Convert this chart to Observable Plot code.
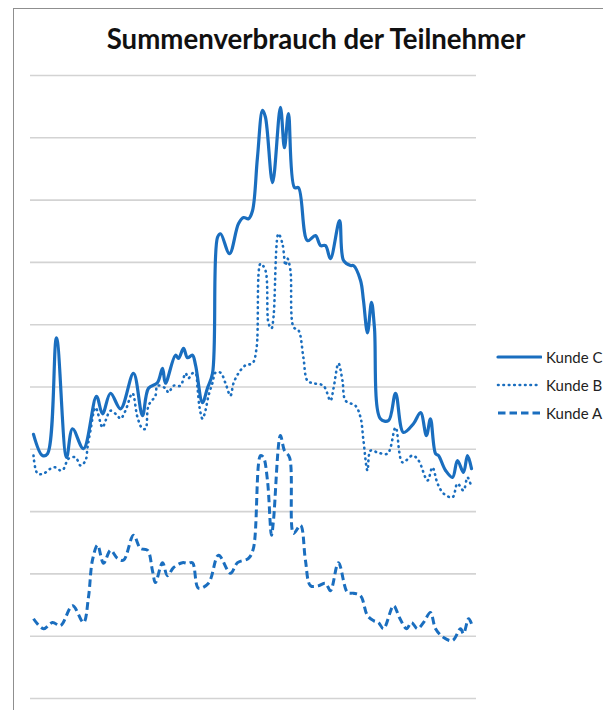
<!DOCTYPE html>
<html>
<head>
<meta charset="utf-8">
<script src="https://cdn.jsdelivr.net/npm/d3@7"></script>
<script src="https://cdn.jsdelivr.net/npm/@observablehq/plot@0.6"></script>
<style>
  html, body { margin: 0; padding: 0; background: #fff; overflow: hidden; }
  #wrap { position: relative; width: 603px; height: 710px; overflow: hidden; font-family: Lato, "Open Sans", sans-serif; }
  #frame { position: absolute; left: 13px; top: 8px; width: 620px; height: 720px;
           border-top: 1.5px solid #8f8f8f; border-left: 1.5px solid #8f8f8f; pointer-events: none; }
  #chart { position: absolute; left: 0; top: 0; }
  #title { position: absolute; left: 0; width: 632px; top: 22px; text-align: center;
           font-size: 27.6px; font-weight: 700; color: #111; white-space: nowrap; }
  #legend { position: absolute; left: 496px; top: 343px; }
  .item { display: flex; align-items: center; height: 28px; font-size: 15px; color: #222; white-space: nowrap; }
  .item svg { margin-right: 4px; }
</style>
</head>
<body>
<div id="wrap">
  <div id="chart"></div>
  <div id="title">Summenverbrauch der Teilnehmer</div>
  <div id="legend"></div>
  <div id="frame"></div>
</div>
<script>
// Hours of the day (x) and consumption values (y, in gridline units 0–100)
const hoursC = [0,0.49,0.77,1.26,1.81,2.14,2.74,3.45,3.78,4.22,4.77,5.48,5.97,6.30,6.79,7.07,7.23,7.78,7.95,8.22,8.44,8.71,8.88,9.26,9.53,9.81,10.08,10.25,10.74,11.23,11.51,11.78,12.00,12.27,12.55,12.71,13.10,13.53,13.75,13.97,14.30,14.52,15.01,15.45,15.73,16.00,16.27,16.77,16.99,17.37,17.53,17.92,18.08,18.30,18.52,18.68,19.01,19.45,19.84,20.27,20.82,21.21,21.53,21.75,22.03,22.19,22.58,22.96,23.23,23.56,23.78,24];
const kundeC = [42.4,39.0,39.3,57.9,38.7,43.3,40.1,48.5,45.7,49.0,46.5,52.2,45.4,49.8,50.7,53.0,50.6,55.1,54.6,56.2,54.7,55.1,53.5,47.5,49.8,52.2,74.0,74.6,71.4,76.2,77.2,77.0,78.3,86.8,94.4,93.3,82.8,94.9,88.4,93.9,82.0,82.0,73.5,74.3,72.7,72.7,70.6,76.7,70.3,69.5,69.5,67.1,63.9,58.7,63.6,59.6,44.9,44.6,49.0,42.7,44.1,45.9,42.2,44.9,39.3,39.0,36.6,35.5,38.2,36.3,39.0,36.9];

const hoursB = [0,0.22,0.55,0.93,1.21,1.48,1.64,1.92,2.30,2.58,2.85,2.96,3.12,3.40,3.78,3.95,4.22,4.60,4.77,5.04,5.42,5.70,5.97,6.14,6.30,6.68,6.79,7.23,7.40,7.67,8.05,8.33,8.49,8.71,8.88,8.99,9.10,9.26,9.42,9.59,9.81,9.97,10.25,10.52,10.79,10.96,11.23,11.62,12.00,12.22,12.44,12.71,12.88,13.04,13.15,13.42,13.64,13.81,13.92,14.08,14.25,14.52,14.79,15.01,15.34,15.89,16.27,16.44,16.71,16.93,17.10,17.64,17.92,18.08,18.30,18.47,18.85,19.40,19.84,20.22,20.77,21.10,21.59,21.86,22.14,22.47,22.96,23.23,23.56,23.78,24];
const kundeB = [39.0,36.1,36.1,36.9,37.1,36.6,36.8,38.5,38.7,37.4,38.2,40.3,43.0,46.7,43.5,44.6,46.2,45.4,44.9,46.2,49.0,45.1,43.3,43.3,47.0,48.6,50.2,49.8,49.1,50.2,50.2,52.2,51.4,52.2,52.2,49.8,46.7,44.9,46.2,48.6,50.7,52.3,52.3,50.6,48.6,50.6,52.2,53.5,53.8,56.2,69.8,68.7,60.2,59.4,61.2,74.6,73.0,69.5,70.6,68.7,59.6,59.1,54.7,51.0,50.6,50.2,47.8,49.8,53.8,51.0,47.8,47.0,45.1,41.4,36.6,39.8,39.5,39.3,43.5,37.9,39.0,38.2,35.0,37.1,34.5,32.9,32.3,34.5,33.4,35.5,33.9];

const hoursA = [0,0.55,1.04,1.48,2.14,2.74,3.01,3.23,3.51,3.84,4.22,4.60,4.93,5.48,5.86,6.25,6.52,6.68,7.07,7.34,7.67,8.16,8.44,8.71,9.04,9.59,10.14,10.79,11.18,11.78,12.05,12.44,12.60,12.82,13.04,13.15,13.53,13.75,14.03,14.25,14.63,14.90,15.18,15.62,16.00,16.27,16.71,17.21,17.53,17.92,18.30,18.63,18.90,19.18,19.73,20.05,20.44,20.71,21.04,21.37,21.75,22.03,22.47,22.96,23.40,23.56,23.84,24];
const kundeA = [12.8,11.2,12.2,11.7,14.9,12.2,16.2,22.2,24.6,21.7,23.8,22.5,22.2,26.2,24.1,23.8,20.5,18.6,21.8,19.7,21.0,21.8,21.7,21.8,17.7,18.5,23.0,20.1,21.8,22.5,24.1,39.0,38.7,35.0,26.2,28.6,42.2,39.8,38.7,26.5,27.8,22.2,18.1,18.1,18.5,17.3,21.8,17.0,16.9,16.5,13.3,12.5,12.2,11.2,14.9,13.0,11.2,12.2,11.2,12.2,13.8,11.2,9.8,9.3,11.2,10.4,12.8,12.0];

const gridValues = [0,10,20,30,40,50,60,70,80,90,100];
const seriesNames = ["Kunde C", "Kunde B", "Kunde A"];

const blue = "#1a6ebf";
const styles = {
  "Kunde C": {strokeWidth: 3.2, dash: null, cap: "round"},
  "Kunde B": {strokeWidth: 2.6, dash: "0.6,4.8", cap: "round"},
  "Kunde A": {strokeWidth: 3.0, dash: "7.5,4", cap: "butt"}
};

const toRows = (xs, ys) => xs.map((x, i) => ({x, y: ys[i]}));
const dataC = toRows(hoursC, kundeC);
const dataB = toRows(hoursB, kundeB);
const dataA = toRows(hoursA, kundeA);

const lineMark = (data, name) => Plot.line(data, {
  x: "x", y: "y", curve: "catmull-rom", stroke: blue,
  strokeWidth: styles[name].strokeWidth,
  strokeDasharray: styles[name].dash,
  strokeLinecap: styles[name].cap,
  strokeLinejoin: "round"
});

const plot = Plot.plot({
  width: 603,
  height: 710,
  marginLeft: 30,
  marginRight: 127,
  marginTop: 75,
  marginBottom: 12,
  style: {background: "transparent", overflow: "visible"},
  x: {domain: [0, 24], insetLeft: 3, insetRight: 5, axis: null},
  y: {domain: [0, 100], axis: null},
  marks: [
    Plot.ruleY(gridValues, {stroke: "#d3d3d3", strokeWidth: 1.6}),
    lineMark(dataA, "Kunde A"),
    lineMark(dataB, "Kunde B"),
    lineMark(dataC, "Kunde C")
  ]
});
document.getElementById("chart").appendChild(plot);

// Legend
const legend = document.getElementById("legend");
for (const name of seriesNames) {
  const s = styles[name];
  const item = document.createElement("div");
  item.className = "item";
  item.innerHTML = `<svg width="46" height="10"><line x1="2" x2="45" y1="5" y2="5" stroke="${blue}" stroke-width="${s.strokeWidth}" ${s.dash ? `stroke-dasharray="${s.dash}"` : ""} stroke-linecap="${s.cap}"/></svg><span>${name}</span>`;
  legend.appendChild(item);
}
</script>
</body>
</html>
